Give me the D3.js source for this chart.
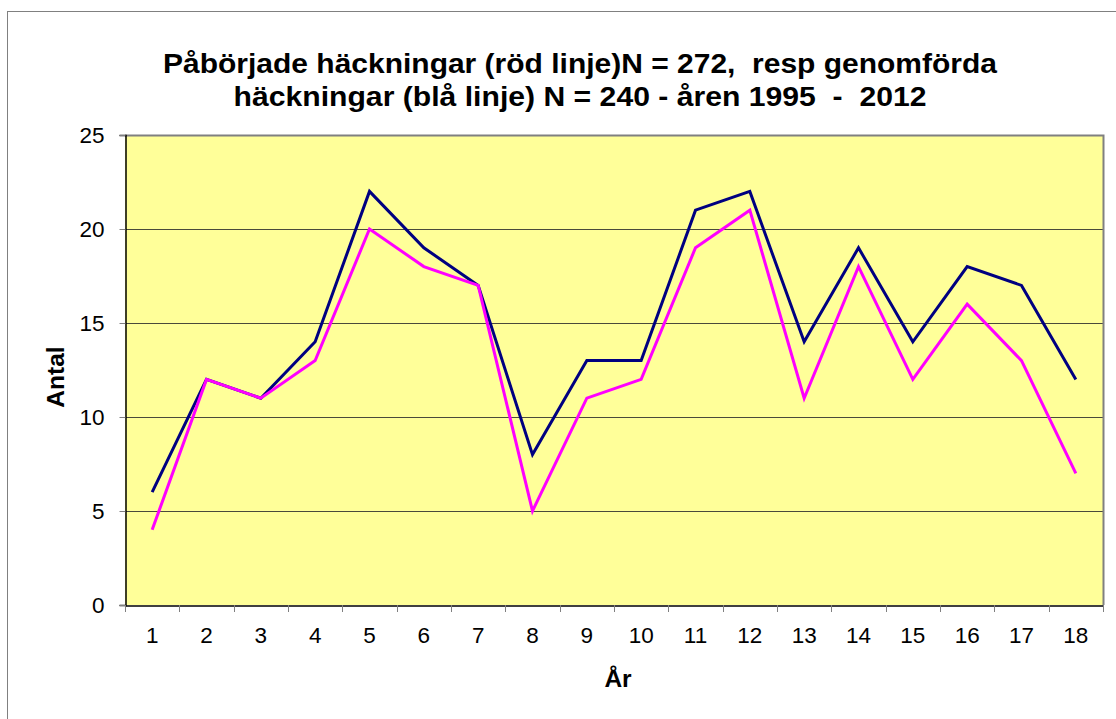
<!DOCTYPE html>
<html><head><meta charset="utf-8">
<script src="https://cdn.jsdelivr.net/npm/d3@7"></script>
<style>body{margin:0;background:#fff;font-family:"Liberation Sans",Arial,sans-serif} text{white-space:pre}</style>
</head><body><svg id="c" width="1116" height="719"></svg>
<script>
const categories = ["1","2","3","4","5","6","7","8","9","10","11","12","13","14","15","16","17","18"];
const blueSeries = [6,12,11,14,22,19,17,8,13,13,21,22,14,19,14,18,17,12];
const redSeries = [4,12,11,13,20,18,17,5,11,12,19,21,11,18,12,16,13,7];
const yTicks = [0,5,10,15,20,25];
const titleLines = ["Påbörjade häckningar (röd linje)N = 272,  resp genomförda","häckningar (blå linje) N = 240 - åren 1995  -  2012"];
const titleWidths = [834, 693];

const FF = "Liberation Sans, Arial, sans-serif";
const svg = d3.select("#c");
const L=125, R=1103, T=135, B=605;
svg.append("rect").attr("x",7.5).attr("y",11.5).attr("width",1130).attr("height",730)
  .attr("fill","#fff").attr("stroke","#808080").attr("stroke-width",1);

const x = d3.scaleBand().domain(categories).range([L,R]);
const y = d3.scaleLinear().domain([0,25]).range([B,T]);

svg.append("rect").attr("x",L).attr("y",T).attr("width",R-L).attr("height",B-T).attr("fill","#FFFF99");
// gridlines
svg.append("g").selectAll("line").data(yTicks.filter(d=>d>0&&d<25)).join("line")
  .attr("x1",L).attr("x2",R).attr("y1",d=>Math.round(y(d))+0.5).attr("y2",d=>Math.round(y(d))+0.5)
  .attr("stroke","#4a4a3a").attr("stroke-width",1);
// gray border top/right
svg.append("path").attr("d",`M${L},${T+0.5}H${R+0.5}V${B}`).attr("fill","none").attr("stroke","#808080").attr("stroke-width",2);

// axes
const yAxis = d3.axisLeft(y).tickValues(yTicks).tickSize(6).tickPadding(15);
const gy = svg.append("g").attr("transform",`translate(${L+0.5},0)`).call(yAxis);
gy.select(".domain").attr("stroke","#000").attr("stroke-width",1.5);
gy.selectAll(".tick line").attr("stroke","#808080");
gy.selectAll("text").attr("font-size",22.5).attr("font-family",FF).attr("fill","#000");

const xAxis = d3.axisBottom(x).tickSize(0).tickPadding(22);
const gx = svg.append("g").attr("transform",`translate(0,${B+0.5})`).call(xAxis);
gx.select(".domain").attr("stroke","#000").attr("stroke-width",1.5);
gx.selectAll("text").attr("font-size",22.5).attr("font-family",FF).attr("fill","#000");
// boundary ticks
const bounds = categories.map(c=>x(c)).concat([R]);
svg.append("g").selectAll("line").data(bounds).join("line")
  .attr("x1",d=>Math.round(d)+0.5).attr("x2",d=>Math.round(d)+0.5).attr("y1",B).attr("y2",B+7)
  .attr("stroke","#808080").attr("stroke-width",1);

const line = d3.line().x((d,i)=>x(categories[i])+x.bandwidth()/2).y(d=>y(d));
svg.append("path").datum(blueSeries).attr("d",line).attr("fill","none").attr("stroke","#000080").attr("stroke-width",3).attr("stroke-linejoin","miter");
svg.append("path").datum(redSeries).attr("d",line).attr("fill","none").attr("stroke","#FF00FF").attr("stroke-width",3).attr("stroke-linejoin","miter");

// title
svg.append("g").selectAll("text").data(titleLines).join("text")
  .attr("x",580).attr("y",(d,i)=>73+i*33).attr("text-anchor","middle")
  .attr("textLength",(d,i)=>titleWidths[i]).attr("lengthAdjust","spacingAndGlyphs")
  .attr("font-size",28.5).attr("font-weight","bold").attr("font-family",FF).text(d=>d);

svg.append("text").attr("transform","translate(64,377) rotate(-90)").attr("text-anchor","middle")
  .attr("font-size",24.5).attr("font-weight","bold").attr("font-family",FF).text("Antal");
svg.append("text").attr("x",618).attr("y",687).attr("text-anchor","middle")
  .attr("font-size",24.5).attr("font-weight","bold").attr("font-family",FF).text("År");
</script></body></html>
